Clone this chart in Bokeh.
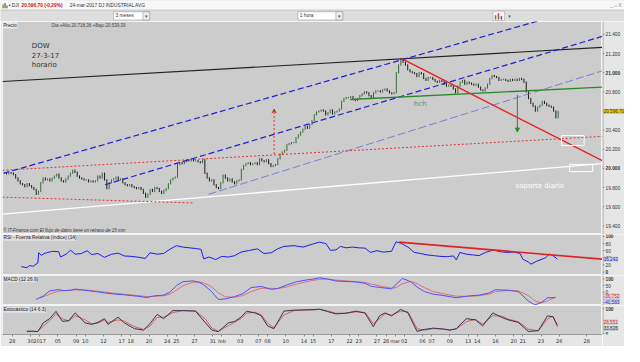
from bokeh.plotting import figure
from bokeh.layouts import column, row
from bokeh.models import Range1d, FixedTicker, Label, Arrow, VeeHead, NormalHead, Span
from bokeh.core.properties import value
from bokeh.embed import file_html
from bokeh.resources import INLINE

# ------------------------------------------------------------------ data
# x = trading-day index (0 = 28-dic-2016); ticks of the date axis
x_tick_pos = [0, 2, 3, 5, 7, 8, 10, 12, 13, 15, 17, 18, 20, 22, 23, 25, 27, 28, 30, 32,
              33, 35, 37, 38, 40, 41, 42, 43, 45, 46, 48, 50, 51, 53, 55, 56, 58, 60, 63]
x_tick_lab = ["28", "30", "2017", "05", "09", "10", "12", "17", "18", "20", "24", "25", "27",
              "31", "feb", "03", "07", "08", "10", "14", "15", "17", "22", "23", "27", "28",
              "mar", "02", "06", "07", "09", "13", "14", "16", "20", "21", "23", "26", "28"]

price_ticks = [19400, 19600, 19800, 20000, 20200, 20400, 20600, 20800, 21000, 21200, 21400]
price_bold_ticks = [20000, 21000]
rsi_ticks = [0, 20, 40, 60, 80, 100]
macd_ticks = [0, 50, 100]
stoch_ticks = [0, 100]
ind_bold_ticks = [0, 100]

first_day = -1
# hourly-ish closes, one row per trading day (27-dic ... 24-mar)
price_hourly = [
    [19950, 19945, 19955, 19950],
    [19935, 19900, 19870, 19840],
    [19830, 19810, 19840, 19820],
    [19800, 19780, 19730, 19760],
    [19850, 19900, 19880, 19890],
    [19870, 19900, 19920, 19940],
    [19900, 19870, 19860, 19890],
    [19920, 19950, 19980, 19960],
    [19920, 19900, 19890, 19880],
    [19880, 19860, 19870, 19860],
    [19870, 19920, 19900, 19950],
    [19880, 19790, 19850, 19880],
    [19890, 19910, 19880, 19890],
    [19850, 19830, 19820, 19830],
    [19810, 19800, 19790, 19800],
    [19780, 19740, 19700, 19730],
    [19780, 19760, 19800, 19790],
    [19760, 19740, 19770, 19790],
    [19840, 19880, 19900, 19910],
    [20040, 20060, 20050, 20070],
    [20090, 20080, 20100, 20080],
    [20080, 20070, 20060, 20090],
    [19950, 19900, 19870, 19880],
    [19830, 19800, 19790, 19850],
    [19930, 19900, 19870, 19890],
    [19860, 19840, 19870, 19880],
    [19990, 20030, 20050, 20060],
    [20040, 20050, 20060, 20040],
    [20100, 20080, 20070, 20090],
    [20050, 20020, 20030, 20040],
    [20100, 20150, 20170, 20190],
    [20250, 20260, 20270, 20270],
    [20320, 20350, 20380, 20410],
    [20440, 20420, 20460, 20500],
    [20560, 20590, 20600, 20610],
    [20600, 20560, 20580, 20610],
    [20570, 20590, 20600, 20620],
    [20700, 20730, 20740, 20740],
    [20750, 20720, 20710, 20730],
    [20760, 20780, 20800, 20790],
    [20760, 20740, 20790, 20810],
    [20810, 20800, 20820, 20830],
    [20810, 20790, 20780, 20790],
    [21000, 21080, 21140, 21110],
    [21080, 21030, 21010, 21000],
    [20990, 20960, 21000, 20990],
    [20940, 20920, 20950, 20950],
    [20930, 20910, 20900, 20920],
    [20910, 20880, 20860, 20870],
    [20860, 20830, 20790, 20860],
    [20900, 20920, 20880, 20900],
    [20890, 20880, 20870, 20880],
    [20850, 20820, 20810, 20840],
    [20880, 20940, 20970, 20960],
    [20950, 20920, 20930, 20930],
    [20920, 20910, 20930, 20920],
    [20930, 20920, 20940, 20930],
    [20900, 20800, 20730, 20680],
    [20650, 20600, 20640, 20660],
    [20700, 20680, 20660, 20650],
    [20640, 20600, 20530, 20596.70],
]
last_price = 20596.70

rsi_pts = [(1.0, 15), (1.6, 12), (1.9, 18), (2.3, 16), (2.6, 22), (2.8, 25), (2.9, 54), (3.2, 47),
           (3.5, 52), (3.9, 55), (4.4, 58), (5.1, 57), (5.3, 42), (5.9, 50), (6.4, 61), (6.9, 50),
           (7.6, 52), (8.2, 60), (8.7, 49), (9.4, 52), (10.1, 41), (10.9, 50), (11.6, 53),
           (12.3, 45), (13.0, 44), (13.7, 42), (14.6, 38), (15.1, 54), (15.9, 50), (16.6, 52),
           (17.3, 64), (18.0, 74), (18.7, 70), (19.4, 68), (20.1, 66), (20.7, 64), (21.0, 37),
           (21.6, 42), (22.3, 35), (23.0, 44), (23.7, 42), (24.4, 46), (25.1, 56), (25.9, 60),
           (26.9, 65), (27.6, 52), (28.4, 54), (29.1, 65), (29.8, 72), (30.9, 74), (31.9, 70),
           (33.0, 79), (33.7, 84), (34.4, 80), (34.9, 61), (35.5, 62), (36.0, 72), (36.6, 68),
           (37.3, 70), (38.0, 68), (38.7, 67), (39.3, 55), (40.0, 60), (40.7, 56), (41.6, 58),
           (42.1, 85), (42.7, 80), (43.4, 70), (44.1, 55), (44.8, 52), (45.5, 48), (46.2, 46),
           (46.9, 44), (47.6, 43), (48.4, 45), (48.7, 34), (49.1, 55), (49.8, 50), (50.5, 48),
           (51.2, 46), (51.9, 55), (52.8, 62), (53.5, 57), (54.3, 55), (55.0, 56), (55.7, 52),
           (56.0, 36), (56.6, 28), (56.9, 22), (57.5, 30), (58.0, 35), (58.5, 40), (58.9, 50),
           (59.3, 46), (59.8, 36.242)]

macd_pts = [(2.6, -54), (2.9, -45), (3.4, -29), (4.1, 10), (5.0, 20), (5.7, 12), (6.4, 15),
            (6.9, 24), (8.0, 15), (9.1, 5), (10.1, -5), (11.2, -14), (12.3, -20), (13.7, -30),
            (14.8, -40), (15.5, -28), (16.6, -22), (17.3, 0), (18.0, 50), (18.7, 80), (19.8, 86),
            (20.5, 75), (21.0, 55), (21.8, 10), (22.6, -55), (23.4, -50), (24.4, -33),
            (25.3, -10), (26.2, 35), (27.3, 44), (28.4, 22), (29.1, 28), (30.1, 55), (31.2, 80),
            (32.3, 93), (33.0, 100), (33.7, 110), (34.6, 100), (35.5, 85), (36.6, 82),
            (37.7, 78), (38.7, 68), (39.4, 44), (40.5, 35), (41.6, 25), (42.1, 60), (42.8, 105),
            (43.7, 80), (44.4, 40), (45.2, 5), (46.2, -15), (47.3, -25), (48.7, -42),
            (49.8, -30), (51.2, -22), (52.3, -5), (53.0, 19), (54.4, 15), (55.5, 5),
            (56.6, -66), (57.3, -96), (58.0, -80), (58.7, -42), (59.6, -40.583)]

signal_pts = [(3.0, -45), (4.1, -15), (5.0, 8), (6.0, 14), (6.9, 17), (8.0, 17), (9.1, 10),
              (10.1, 2), (11.2, -8), (12.3, -15), (13.7, -25), (14.8, -33), (15.5, -32),
              (16.6, -26), (17.3, -15), (18.0, 15), (18.7, 50), (19.8, 75), (20.5, 78),
              (21.0, 70), (21.8, 45), (22.6, -5), (23.4, -35), (24.4, -38), (25.3, -25),
              (26.2, 5), (27.3, 30), (28.4, 30), (29.1, 28), (30.1, 40), (31.2, 62), (32.3, 80),
              (33.0, 90), (33.7, 98), (34.6, 100), (35.5, 92), (36.6, 86), (37.7, 80),
              (38.7, 74), (39.4, 62), (40.5, 45), (41.6, 32), (42.1, 35), (42.8, 65),
              (43.7, 82), (44.4, 65), (45.2, 35), (46.2, 5), (47.3, -12), (48.7, -30),
              (49.8, -32), (51.2, -26), (52.3, -15), (53.0, 5), (54.4, 14), (55.5, 10),
              (56.6, -25), (57.3, -65), (58.0, -80), (58.7, -65), (59.6, -36.752)]

stoch_x = [1.6, 2.3, 2.8, 3.4, 4.1, 4.8, 5.5, 6.2, 6.9, 8.0, 8.7, 9.4, 10.1, 10.5, 11.6, 12.3,
           13.4, 14.4, 15.1, 15.9, 16.6, 17.6, 18.7, 20.1, 21.2, 21.9, 22.6, 23.7, 24.4, 25.1,
           25.7, 26.6, 27.3, 28.0, 28.7, 29.8, 30.9, 31.9, 33.0, 33.7, 34.6, 35.5, 36.6, 37.7,
           38.7, 39.6, 40.3, 40.9, 41.6, 42.6, 43.4, 44.4, 45.2, 46.2, 47.3, 48.0, 48.7, 49.8,
           50.8, 51.6, 52.7, 53.7, 54.4, 55.5, 56.6, 57.7, 58.7, 59.3, 59.8]
stoch_k = [9, 10, 8, 43, 60, 89, 49, 52, 83, 43, 37, 45, 60, 37, 66, 43, 20, 14, 40, 77, 60, 92,
           92, 90, 43, 14, 8, 43, 49, 66, 90, 83, 72, 31, 20, 90, 94, 95, 96, 98, 88, 79, 82, 90,
           82, 28, 72, 83, 71, 97, 83, 9, 17, 22, 18, 14, 20, 60, 55, 31, 83, 65, 55, 45, 9, 12,
           71, 68, 33.826]
stoch_d = [10, 9, 9, 30, 52, 78, 60, 50, 72, 55, 40, 42, 55, 45, 55, 50, 28, 17, 30, 65, 66, 84,
           92, 91, 58, 22, 10, 32, 46, 60, 82, 86, 76, 42, 24, 75, 92, 94, 95, 97, 91, 82, 81, 87,
           85, 40, 60, 80, 74, 90, 88, 20, 14, 20, 19, 15, 18, 48, 57, 38, 72, 70, 58, 48, 18, 11,
           58, 70, 26.551]

# hand-drawn trend lines: (x0, x1), (y0, y1) in day index / price
tl_black = ([-1.07, 64.74], [20908, 21265])
tl_blue_up = ([-0.96, 64.74], [19950, 21732])
tl_blue_mid = ([10.18, 64.74], [19830, 21380])
tl_blue_low = ([21.54, 64.74], [19730, 21020])
tl_red = ([42.66, 64.74], [21150, 20080])
tl_red_dot_up = ([-1.07, 64.74], [19981, 20335])
tl_red_dot_low = ([-1.07, 19.8], [19700, 19640])
tl_white = ([-1.07, 64.74], [19522, 20050])
tl_green = ([37.08, 64.74], [20720, 20850])
arrow_red = (28.72, 20150, 20620)
arrow_green = (55.4, 20770, 20380)
box1 = (60.24, 62.73, 20343, 20240)
box2 = (61.13, 63.67, 20043, 19967)
rsi_trend = ([42.44, 64.74], [84, 36])

# ------------------------------------------------------------------ style
FONT = "DejaVu Sans"
HFONT = "Liberation Sans"
BG = "#cccccc"
BORDER = "#e6e6e6"
MAIN_W = 602
AXIS_W = 22
x_range = Range1d(-1.07, 64.74)


def es(v, dec=0):
    s = f"{v:,.{dec}f}"
    return s.replace(",", "X").replace(".", ",").replace("X", ".")


def panel(height, y0, y1, bottom_axis=False):
    p = figure(width=MAIN_W, height=height, x_range=x_range, y_range=Range1d(y0, y1),
               y_axis_location=None, x_axis_location="below" if bottom_axis else None,
               toolbar_location=None, output_backend="svg",
               min_border_left=2, min_border_right=0, min_border_top=0,
               min_border_bottom=9 if bottom_axis else 0,
               background_fill_color=BG, border_fill_color=BORDER)
    p.grid.visible = False
    p.outline_line_color = "#f4f4f4"
    return p


def axis_strip(main, ticks, bold=(), fmt=str, bottom=0):
    a = figure(width=AXIS_W, height=main.height, x_range=Range1d(0, AXIS_W),
               y_range=main.y_range, x_axis_location=None, y_axis_location=None,
               toolbar_location=None, output_backend="svg",
               min_border_left=0, min_border_right=0, min_border_top=0,
               min_border_bottom=bottom, background_fill_color=BORDER,
               border_fill_color=BORDER, outline_line_color=None)
    a.grid.visible = False
    a.add_layout(Span(location=0.4, dimension="height", line_color="#9a9a9a", line_width=1))
    a.segment(x0=[0] * len(ticks), x1=[2] * len(ticks), y0=ticks, y1=ticks,
              line_color="#888888", line_width=1)
    reg = [t for t in ticks if t not in bold]
    bld = [t for t in ticks if t in bold]
    common = dict(text_font=value(HFONT), text_font_size="4.8px", text_baseline="middle",
                  text_color="#333333")
    a.text(x=[3] * len(reg), y=reg, text=[fmt(t) for t in reg], **common)
    a.text(x=[3] * len(bld), y=bld, text=[fmt(t) for t in bld], text_font_style="bold",
           **common)
    return a


def tag(a, y, text, bg, fg, off=0):
    a.add_layout(Label(x=1.2, y=y, text=text, y_offset=off,
                       text_font=HFONT, text_font_size="4.6px", text_color=fg,
                       text_baseline="middle", background_fill_color=bg,
                       border_line_color="#a0a0a0", border_line_width=0.5))


def head(p, x, y, text):
    p.add_layout(Label(x=x, y=y, text=text, text_font=HFONT, text_font_size="4.8px",
                       text_color="#222222", text_baseline="middle",
                       background_fill_color="#dddddd", border_line_color="#f0f0f0",
                       border_line_width=0.5))


# ------------------------------------------------------------------ header bar
hdr = figure(width=MAIN_W + AXIS_W, height=21, x_range=Range1d(0, 640),
             y_range=Range1d(21.5, 0), x_axis_location=None, y_axis_location=None,
             toolbar_location=None, output_backend="svg", min_border=0,
             background_fill_color="#dedede", border_fill_color="#dedede",
             outline_line_color=None)
hdr.grid.visible = False
hdr.quad(left=0, right=640, top=0, bottom=9.5, fill_color="#f7f7f7", line_color=None)
hdr.quad(left=0, right=640, top=9.5, bottom=10.2, fill_color="#bdbdbd", line_color=None)
hdr.quad(left=[2, 4, 6], right=[3.3, 5.3, 7.3], top=[4, 2.5, 5], bottom=[8, 8, 8],
         fill_color=["#2f9a2f", "#d03030", "#2f9a2f"], line_color=None)
hdr_txt = dict(text_font=value(HFONT), text_font_size="4.8px", text_baseline="middle")
hdr.text(x=[8.5], y=[5.2], text=["• DJI"], text_color="#333333", **hdr_txt)
hdr.text(x=[21.5], y=[5.2], text=["20.596,70 (-0,29%)"], text_color="#cc1111",
         text_font_style="bold", **hdr_txt)
hdr.text(x=[71], y=[5.2], text=["24-mar-2017  DJ INDUSTRIAL AVG"], text_color="#333333", **hdr_txt)
hdr.text(x=[637], y=[5.2], text=["_ □ X"], text_color="#888888", text_align="right", **hdr_txt)
hdr.quad(left=[116, 305], right=[153, 351], top=[11.5, 11.5], bottom=[20, 20],
         fill_color="#ffffff", line_color="#9a9a9a", line_width=0.6)
hdr.quad(left=[146, 344], right=[153, 351], top=[11.5, 11.5], bottom=[20, 20],
         fill_color="#ececec", line_color="#9a9a9a", line_width=0.6)
hdr.text(x=[118, 307], y=[15.8, 15.8], text=["3 meses", "1 hora"], text_color="#333333",
         text_font=value(HFONT), text_font_size="4.8px", text_baseline="middle")
hdr.text(x=[149.5, 347.5, 522], y=[15.8, 15.8, 15.8], text=["▾", "▾", "▾"],
         text_color="#555555", text_font=value(FONT), text_font_size="5px",
         text_baseline="middle", text_align="center")
hdr.quad(left=505, right=517, top=11, bottom=20.5, fill_color="#f4f4f4", line_color="#a0a0a0",
         line_width=0.5)
hdr.quad(left=[507, 510, 513], right=[508.5, 511.5, 514.5], top=[15, 13, 16],
         bottom=[19.5, 19.5, 19.5], fill_color=["#30a030", "#d04040", "#3050c0"],
         line_color=None)

# ------------------------------------------------------------------ price panel
pp = panel(213, 19310, 21535)
pa = axis_strip(pp, price_ticks, price_bold_ticks, es)

bx, blo, bhi, bcol = [], [], [], []
prev = None
for di, day in enumerate(price_hourly):
    d = first_day + di
    n = len(day)
    for k, v in enumerate(day):
        o = v if prev is None else prev
        bx.append(d + (k + 0.5) / n)
        blo.append(min(o, v) - 7)
        bhi.append(max(o, v) + 7)
        bcol.append("#3b6b3b" if v >= o else "#1c1c1c")
        prev = v
pp.segment(x0=bx, x1=bx, y0=blo, y1=bhi, line_color=bcol, line_width=1)

pp.line(*tl_white, line_color="#ffffff", line_width=1.3)
pp.line(*tl_red_dot_up, line_color="#e53030", line_width=1, line_dash="2 2")
pp.line(*tl_red_dot_low, line_color="#e53030", line_width=1, line_dash="2 2")
pp.line(*tl_black, line_color="#222222", line_width=1.1)
pp.line(*tl_blue_up, line_color="#2020d0", line_width=1.2, line_dash="6 3")
pp.line(*tl_blue_mid, line_color="#2020d0", line_width=1.2, line_dash="6 3")
pp.line(*tl_blue_low, line_color="#6a6ad8", line_width=0.8, line_dash="8 3")
pp.line(*tl_red, line_color="#e52020", line_width=1.3)
pp.line(*tl_green, line_color="#2a8a2a", line_width=1.3)
pp.add_layout(Arrow(x_start=arrow_red[0], y_start=arrow_red[1], x_end=arrow_red[0],
                    y_end=arrow_red[2], line_color="#e53030", line_width=1, line_dash="2 2",
                    end=VeeHead(size=4, line_color="#e53030", line_width=1)))
pp.add_layout(Arrow(x_start=arrow_green[0], y_start=arrow_green[1], x_end=arrow_green[0],
                    y_end=arrow_green[2], line_color="#2a8a2a", line_width=1,
                    end=NormalHead(size=4, fill_color="#2a8a2a", line_color="#2a8a2a")))
pp.quad(left=[box1[0], box2[0]], right=[box1[1], box2[1]], top=[box1[2], box2[2]],
        bottom=[box1[3], box2[3]], fill_alpha=0, line_color="#ffffff", line_width=1)

for i, t in enumerate(["DOW", "27-3-17", "horario"]):
    pp.add_layout(Label(x=2.14, y=21280 - 100 * i, text=t, text_font=FONT,
                        text_font_size="7px", text_color="#333333", text_baseline="middle"))
pp.add_layout(Label(x=44.05, y=20670, text="hch", text_font=FONT, text_font_size="7px",
                    text_color="#3a9a8a", text_baseline="middle"))
pp.add_layout(Label(x=55.2, y=19820, text="soporte diario", text_font=FONT,
                    text_font_size="7px", text_color="#ffffff", text_baseline="middle"))
pp.add_layout(Label(x=-1.0, y=21495, text="Precio", text_font=HFONT, text_font_size="4.8px",
                    text_color="#222222", text_baseline="middle",
                    background_fill_color="#e4e4e4", border_line_color="#f4f4f4"))
pp.add_layout(Label(x=4.3, y=21495, text="Día +Alto 20.718,38  +Bajo 20.539,39",
                    text_font=HFONT, text_font_size="4.5px", text_color="#444444",
                    text_baseline="middle"))
pp.add_layout(Label(x=-1.0, y=19350,
                    text="© IT-Finance.com  El flujo de datos tiene un retraso de 15 min",
                    text_font=HFONT, text_font_size="4.5px", text_font_style="italic",
                    text_color="#333333", text_baseline="middle"))
tag(pa, last_price, es(last_price, 2), "#f0d200", "#333333")

# ------------------------------------------------------------------ RSI
pr = panel(41, -9.9, 105.4)
ra = axis_strip(pr, rsi_ticks, ind_bold_ticks)
pr.line([a for a, b in rsi_pts], [b for a, b in rsi_pts], line_color="#1c1cf0", line_width=1)
pr.line(*rsi_trend, line_color="#e52020", line_width=1.6)
head(pr, -0.95, 96, "RSI - Fuerza Relativa (índice) (14)")
tag(ra, rsi_pts[-1][1], es(rsi_pts[-1][1], 3), "#cfcff0", "#2a2ab0")

# ------------------------------------------------------------------ MACD
pm = panel(30, -100.7, 127)
ma = axis_strip(pm, macd_ticks, [100])
pm.line([a for a, b in signal_pts], [b for a, b in signal_pts], line_color="#e07070",
        line_width=1)
pm.line([a for a, b in macd_pts], [b for a, b in macd_pts], line_color="#5050ff",
        line_width=1)
head(pm, -0.95, 98, "MACD (12 26 9)")
tag(ma, signal_pts[-1][1], es(signal_pts[-1][1], 3), "#ead6d6", "#cc3333", 1)
tag(ma, macd_pts[-1][1], es(macd_pts[-1][1], 3), "#d4d4f2", "#2a2ab0", -4)

# ------------------------------------------------------------------ Stochastic
ps = panel(41, -3.4, 112.6, bottom_axis=True)
sa = axis_strip(ps, stoch_ticks, ind_bold_ticks, bottom=9)
ps.line(stoch_x, stoch_d, line_color="#d86060", line_width=1)
ps.line(stoch_x, stoch_k, line_color="#33335a", line_width=1)
head(ps, -0.95, 95.6, "Estocástico (14 6 3)")
tag(sa, stoch_d[-1], es(stoch_d[-1], 3), "#e2d6d6", "#cc3333", 5)
tag(sa, stoch_k[-1], es(stoch_k[-1], 3), "#d8d8d8", "#333333", -3)
xa = ps.xaxis[0]
xa.ticker = FixedTicker(ticks=x_tick_pos)
xa.major_label_overrides = dict(zip(x_tick_pos, x_tick_lab))
xa.major_label_text_font = FONT
xa.major_label_text_font_size = "5px"
xa.major_label_text_color = "#333333"
xa.major_tick_out = 2
xa.major_tick_in = 0
xa.minor_tick_out = 0
xa.minor_tick_in = 0
xa.major_label_standoff = 1
xa.axis_line_color = "#999999"
xa.major_tick_line_color = "#888888"

layout = column(hdr, row(pp, pa, spacing=0), row(pr, ra, spacing=0),
                row(pm, ma, spacing=0), row(ps, sa, spacing=0), spacing=0)
open("out.html", "w").write(file_html(layout, INLINE))
